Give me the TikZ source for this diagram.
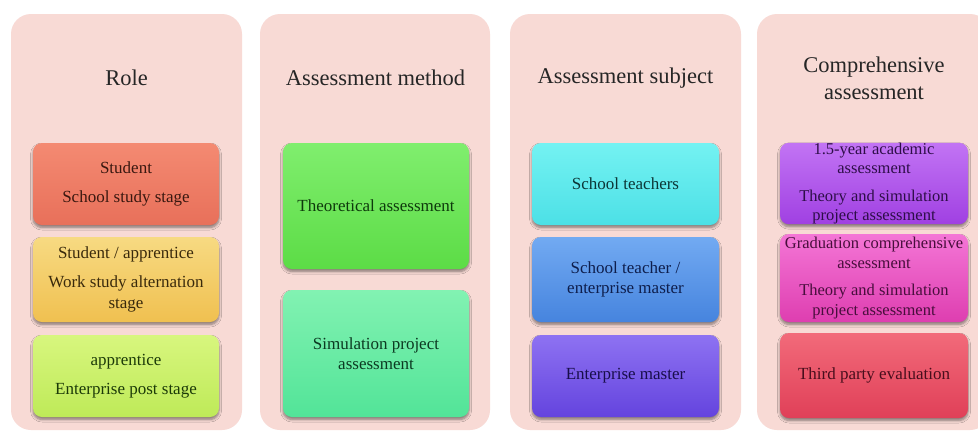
\documentclass[tikz,border=0pt]{standalone}
\usepackage{fontspec}
\setmainfont{Liberation Serif}
\usetikzlibrary{shadows,shadows.blur}
\definecolor{panelc}{HTML}{F8DAD5}
\definecolor{rAt}{HTML}{F48A72}\definecolor{rAb}{HTML}{E8705A}\definecolor{rAx}{HTML}{3A1810}
\definecolor{rBt}{HTML}{F7DA82}\definecolor{rBb}{HTML}{F0C050}\definecolor{rBx}{HTML}{3A2A0C}
\definecolor{rCt}{HTML}{D8F67E}\definecolor{rCb}{HTML}{BEEA58}\definecolor{rCx}{HTML}{1C3A08}
\definecolor{mAt}{HTML}{80EE6E}\definecolor{mAb}{HTML}{5CDC46}\definecolor{mAx}{HTML}{0E3A0C}
\definecolor{mBt}{HTML}{82F2B2}\definecolor{mBb}{HTML}{52E498}\definecolor{mBx}{HTML}{0C3A22}
\definecolor{sAt}{HTML}{74F2F2}\definecolor{sAb}{HTML}{4CE0E6}\definecolor{sAx}{HTML}{0C3636}
\definecolor{sBt}{HTML}{72AAF2}\definecolor{sBb}{HTML}{4684DE}\definecolor{sBx}{HTML}{0E1E4C}
\definecolor{sCt}{HTML}{8E72F2}\definecolor{sCb}{HTML}{6444DE}\definecolor{sCx}{HTML}{180E4A}
\definecolor{cAt}{HTML}{C274F4}\definecolor{cAb}{HTML}{A040E2}\definecolor{cAx}{HTML}{2E0E48}
\definecolor{cBt}{HTML}{F476D6}\definecolor{cBb}{HTML}{DE3EB0}\definecolor{cBx}{HTML}{480E3C}
\definecolor{cCt}{HTML}{F26A7A}\definecolor{cCb}{HTML}{E04058}\definecolor{cCx}{HTML}{480E1C}
\tikzset{
  panel/.style={fill=panelc, draw=none, rounded corners=20pt},
  ttl/.style={font=\fontsize{22.5}{27}\selectfont, text=black!85, align=center, inner sep=0pt},
  box/.style={rounded corners=9pt, draw=none, align=center, inner sep=0pt,
    font=\fontsize{17}{20.5}\selectfont,
    blur shadow={shadow xshift=0pt, shadow yshift=-2.5pt, shadow blur steps=6, shadow opacity=45, shadow blur radius=2.5pt}},
  cbox/.style={box, font=\fontsize{16.5}{19.5}\selectfont},
  col/.style={top color=#1t, bottom color=#1b, text=#1x},
}
\begin{document}
\begin{tikzpicture}[x=1pt,y=-1pt]
\useasboundingbox (0,0) rectangle (978,432);
\fill[white] (0,0) rectangle (978,432);
\begin{scope}
\clip (0,0) rectangle (978,432);
% panels
\path[panel] (11,14) rectangle (242,430);
\path[panel] (260,14) rectangle (490,430);
\path[panel] (510,14) rectangle (741,430);
\path[panel] (757,14) rectangle (990,430);
\end{scope}
% titles
\node[ttl] (t1) at (126.5,78) {Role};
\node[ttl] (t2) at (375.5,78) {Assessment method};
\node[ttl] (t3) at (625.5,78) {Assessment subject};
\node[ttl] (t4) at (874,78.5) {Comprehensive\\assessment};
% Role
\node[box, col=rA, minimum width=186pt, minimum height=82pt] (r1) at (126,184)
  {Student\\[8.5pt]School study stage};
\node[box, col=rB, minimum width=186pt, minimum height=85pt] (r2) at (126,279.5)
  {Student / apprentice\\[8.5pt]Work study alternation\\stage};
\node[box, col=rC, minimum width=186pt, minimum height=82pt] (r3) at (126,376)
  {apprentice\\[8.5pt]Enterprise post stage};
% Method
\node[box, col=mA, minimum width=186pt, minimum height=126pt] (m1) at (376,206)
  {Theoretical assessment};
\node[box, col=mB, minimum width=186pt, minimum height=127pt] (m2) at (376,353.5)
  {Simulation project\\assessment};
% Subject
\node[box, col=sA, minimum width=187pt, minimum height=82pt] (s1) at (625.5,184)
  {School teachers};
\node[box, col=sB, minimum width=187pt, minimum height=85pt] (s2) at (625.5,279.5)
  {School teacher /\\enterprise master};
\node[box, col=sC, minimum width=187pt, minimum height=82pt] (s3) at (625.5,376)
  {Enterprise master};
% Comprehensive
\node[cbox, col=cA, minimum width=188pt, minimum height=81pt] (c1) at (874,183.5)
  {1.5-year academic\\assessment\\[8pt]Theory and simulation\\project assessment};
\node[cbox, col=cB, minimum width=188pt, minimum height=88pt] (c2) at (874,278)
  {Graduation comprehensive\\assessment\\[8pt]Theory and simulation\\project assessment};
\node[box, col=cC, minimum width=188pt, minimum height=85pt] (c3) at (874,375.5)
  {Third party evaluation};
\end{tikzpicture}
\end{document}
